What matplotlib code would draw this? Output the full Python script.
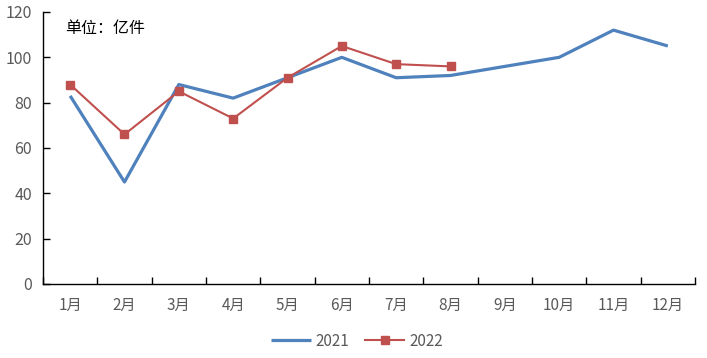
import matplotlib
matplotlib.use('Agg')
import matplotlib.pyplot as plt

plt.rcParams['font.family'] = ['Noto Sans CJK SC', 'DejaVu Sans']

months = ['1月', '2月', '3月', '4月', '5月', '6月', '7月', '8月', '9月', '10月', '11月', '12月']
v2021 = [83, 45, 88, 82, 91, 100, 91, 92, 96, 100, 112, 105]
v2022 = [88, 66, 85, 73, 91, 105, 97, 96]

fig = plt.figure(figsize=(7.07, 3.58), dpi=100)
ax = fig.add_axes([43 / 707, 1 - 284 / 358, (695 - 43) / 707, (284 - 12) / 358])

x = list(range(len(months)))
ax.plot(x, v2021, color='#4F81BD', lw=2.3, label='2021', solid_capstyle='butt')
ax.plot(x[:len(v2022)], v2022, color='#C0504D', lw=1.5, marker='s', ms=6,
        label='2022')

ax.set_xlim(-0.5, 11.5)
ax.set_ylim(0, 120)
ax.set_yticks(range(0, 121, 20))
ax.set_xticks([i - 0.5 for i in range(13)], minor=False)
ax.set_xticklabels([])
ax.set_xticks(x, minor=True)
ax.set_xticklabels(months, minor=True)
ax.tick_params(axis='x', which='major', direction='in', length=5, width=1, color='black')
ax.tick_params(axis='x', which='minor', length=0, pad=9, labelsize=11, labelcolor='#595959')
ax.tick_params(axis='y', direction='in', length=5, width=1, labelsize=11.5,
               labelcolor='#595959', pad=8)

for s in ['top', 'right']:
    ax.spines[s].set_visible(False)
for s in ['left', 'bottom']:
    ax.spines[s].set_linewidth(1)
    ax.spines[s].set_color('black')

fig.text(65 / 707, 1 - 29 / 358, '单位：亿件', fontsize=11.5, va='center', ha='left')

fig.legend(loc='center', bbox_to_anchor=(357 / 707, 1 - 341 / 358), ncol=2,
           frameon=False, fontsize=11, handlelength=2.6, columnspacing=1.0,
           handletextpad=0.3, labelcolor='#595959')

fig.savefig('out.png', dpi=100)
